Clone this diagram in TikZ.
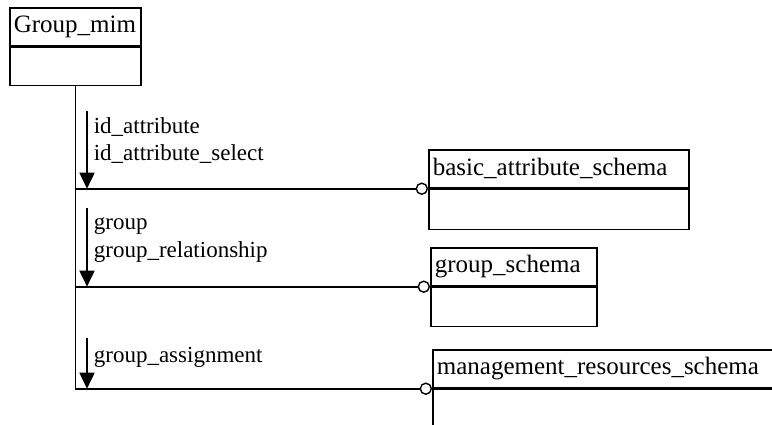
\documentclass[tikz,border=0pt]{standalone}
\usepackage{fontspec}
\setmainfont{Liberation Serif}
\usetikzlibrary{arrows.meta}
\usetikzlibrary{positioning}

\begin{document}
\begin{tikzpicture}[x=1pt,y=-1pt,line width=1.7pt,
  hdr/.style={draw,anchor=north west,text width=#1,minimum height=38pt,inner sep=4pt,align=left,
    font=\fontsize{25}{28}\selectfont},
  bodybox/.style 2 args={draw,minimum width=#1,minimum height=#2,inner sep=0pt},
  ring/.style={circle,draw,fill=white,line width=1.4pt,inner sep=0pt,minimum size=11pt},
  flow/.style={-{Triangle[width=15pt,length=16pt]}},
  lbl/.style={anchor=base west,inner sep=0pt,font=\fontsize{23}{26}\selectfont}]
\clip (0,0) rectangle (772,424);
% entity boxes
\node[hdr=123pt] (mim) at (9,7) {Group\_mim};
\node[bodybox={131pt}{38pt},below=0pt of mim] (mimb) {};
\node[hdr=252pt] (bas) at (428,149) {basic\_attribute\_schema};
\node[bodybox={260pt}{40pt},below=0pt of bas] (basb) {};
\node[hdr=158pt] (grp) at (430,247) {group\_schema};
\node[bodybox={166pt}{39pt},below=0pt of grp] (grpb) {};
\node[hdr=380pt] (mgr) at (432,349) {management\_resources\_schema};
\node[bodybox={388pt}{60pt},below=0pt of mgr] (mgrb) {};
% connectors
\node[ring,left=0pt of bas.south west] (r1) {};
\node[ring,left=0pt of grp.south west] (r2) {};
\node[ring,left=0pt of mgr.south west] (r3) {};
\draw (mimb.south) -- (mimb.south |- mgr.south);
\draw (mimb.south |- bas.south) -- (r1);
\draw (mimb.south |- grp.south) -- (r2);
\draw (mimb.south |- mgr.south) -- (r3);
% reference arrows
\coordinate (a1) at (87,111);
\coordinate (a2) at (87,208);
\coordinate (a3) at (87,338);
\draw[flow] (a1) -- (a1 |- bas.south);
\draw[flow] (a2) -- (a2 |- grp.south);
\draw[flow] (a3) -- (a3 |- mgr.south);
\node[lbl] (l1a) at (93,133) {id\_attribute};
\node[lbl] (l1b) at (93,160) {id\_attribute\_select};
\node[lbl] (l2a) at (93,229) {group};
\node[lbl] (l2b) at (93,257) {group\_relationship};
\node[lbl] (l3a) at (93,362) {group\_assignment};
\end{tikzpicture}
\end{document}
